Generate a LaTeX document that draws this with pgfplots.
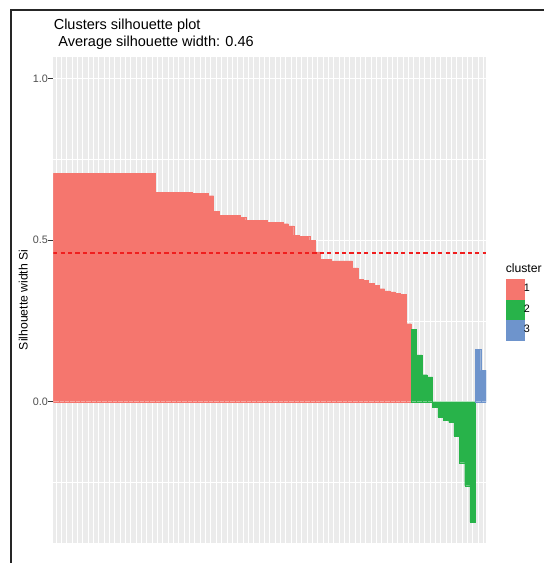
\documentclass[border=0pt]{standalone}
\usepackage{pgfplots}
\pgfplotsset{compat=1.18}
\usepackage{fontspec}
\setmainfont{Liberation Sans}
\definecolor{cred}{RGB}{245,118,110}
\definecolor{cgreen}{RGB}{40,179,74}
\definecolor{cblue}{RGB}{110,148,204}
\definecolor{ggbg}{RGB}{235,235,235}
\definecolor{tickgray}{RGB}{77,77,77}
\definecolor{avgred}{RGB}{240,30,30}
\begin{document}
\begin{tikzpicture}
\useasboundingbox (0pt,0pt) rectangle (544pt,563pt);
\draw[line width=2.3pt, color=black!85] (544pt,552.9pt) -- (11pt,552.9pt) -- (11pt,0pt);
\pgfplotsset{sqlegend/.style={legend image code/.code={%
  \path (0pt,-10.6pt) rectangle (17.6pt,9.4pt);
  \fill[##1,draw=none] (0pt,-10.3pt) rectangle (17.6pt,9.1pt);}}}
\begin{axis}[
  at={(53.3pt,20pt)}, anchor=south west,
  scale only axis, width=432.7pt, height=486.3pt,
  xmin=0.5, xmax=81.5, ymin=-0.4375, ymax=1.0681,
  axis background/.style={fill=ggbg},
  axis line style={draw=none},
  xtick={1,...,81}, xticklabels={},
  xmajorgrids, major x grid style={white, line width=0.8pt},
  ytick={0,0.5,1}, yticklabels={0.0,0.5,1.0},
  minor ytick={-0.25,0.25,0.75},
  ymajorgrids, yminorgrids,
  major y grid style={white, line width=1.1pt},
  minor y grid style={white, line width=0.55pt},
  tick align=outside, ytick pos=left,
  major tick length=4.8pt, minor tick length=0pt,
  xtick style={draw=none},
  ytick style={draw=black!80, line width=0.6pt},
  /pgf/number format/assume math mode=true,
  yticklabel style={font=\fontsize{10.8}{12}\selectfont, text=tickgray, inner sep=0.5pt},
  ylabel={Silhouette width Si},
  ylabel style={at={(axis description cs:-0.0693,0.5)}, anchor=center, rotate=0, font=\fontsize{12.2}{14}\selectfont, inner sep=0pt},
  legend style={at={(axis description cs:1.046,0.5423)}, anchor=north west, draw=none, fill=none, inner sep=0pt, row sep=0pt,
    font=\fontsize{10.8}{12}\selectfont, nodes={inner sep=0pt}},
  legend cell align=left,
  /tikz/every even column/.append style={column sep=6.8pt},
]
\addplot[ybar, bar width=1, bar shift=0pt, fill=cred, draw=cred, line width=0.2pt, sqlegend] coordinates {
(1,0.707)(2,0.707)(3,0.707)(4,0.707)(5,0.707)(6,0.707)(7,0.707)(8,0.707)(9,0.707)(10,0.707)
(11,0.707)(12,0.707)(13,0.707)(14,0.707)(15,0.707)(16,0.707)(17,0.707)(18,0.707)(19,0.707)
(20,0.648)(21,0.648)(22,0.648)(23,0.648)(24,0.648)(25,0.648)(26,0.648)
(27,0.645)(28,0.645)(29,0.645)(30,0.638)(31,0.590)
(32,0.577)(33,0.577)(34,0.577)(35,0.577)(36,0.571)
(37,0.562)(38,0.562)(39,0.562)(40,0.562)
(41,0.555)(42,0.555)(43,0.555)(44,0.551)(45,0.544)(46,0.516)(47,0.512)(48,0.512)
(49,0.500)(50,0.464)(51,0.440)(52,0.440)
(53,0.4356)(54,0.4356)(55,0.4356)(56,0.4356)
(57,0.414)(58,0.379)(59,0.376)(60,0.367)(61,0.360)(62,0.350)(63,0.343)(64,0.340)
(65,0.336)(66,0.3325)(67,0.2415)
};
\addlegendentry{1}
\addplot[ybar, bar width=1, bar shift=0pt, fill=cgreen, draw=cgreen, line width=0.2pt, sqlegend] coordinates {
(68,0.224)(69,0.1446)(70,0.0837)(71,0.0765)(72,-0.0173)(73,-0.048)(74,-0.0567)(75,-0.064)
(76,-0.106)(77,-0.189)(78,-0.260)(79,-0.3725)
};
\addlegendentry{2}
\addplot[ybar, bar width=1, bar shift=0pt, fill=cblue, draw=cblue, line width=0.2pt, sqlegend] coordinates {
(80,0.162)(81,0.097)
};
\addlegendentry{3}
\addplot+[forget plot, mark=none, solid, avgred, line width=1.4pt, dash pattern=on 4.2pt off 3.2pt] coordinates {(0.5,0.46)(81.5,0.46)};
\end{axis}
\node[anchor=base west, inner sep=0pt, font=\fontsize{14.5}{16}\selectfont] at (53.6pt,533pt) {Clusters silhouette plot};
\node[anchor=base west, inner sep=0pt, font=\fontsize{14.5}{16}\selectfont] at (58.2pt,516.3pt) {Average silhouette width: 0.46};
\node[anchor=base west, inner sep=0pt, font=\fontsize{12.2}{14}\selectfont] at (505.6pt,290.7pt) {cluster};
\end{tikzpicture}
\end{document}
